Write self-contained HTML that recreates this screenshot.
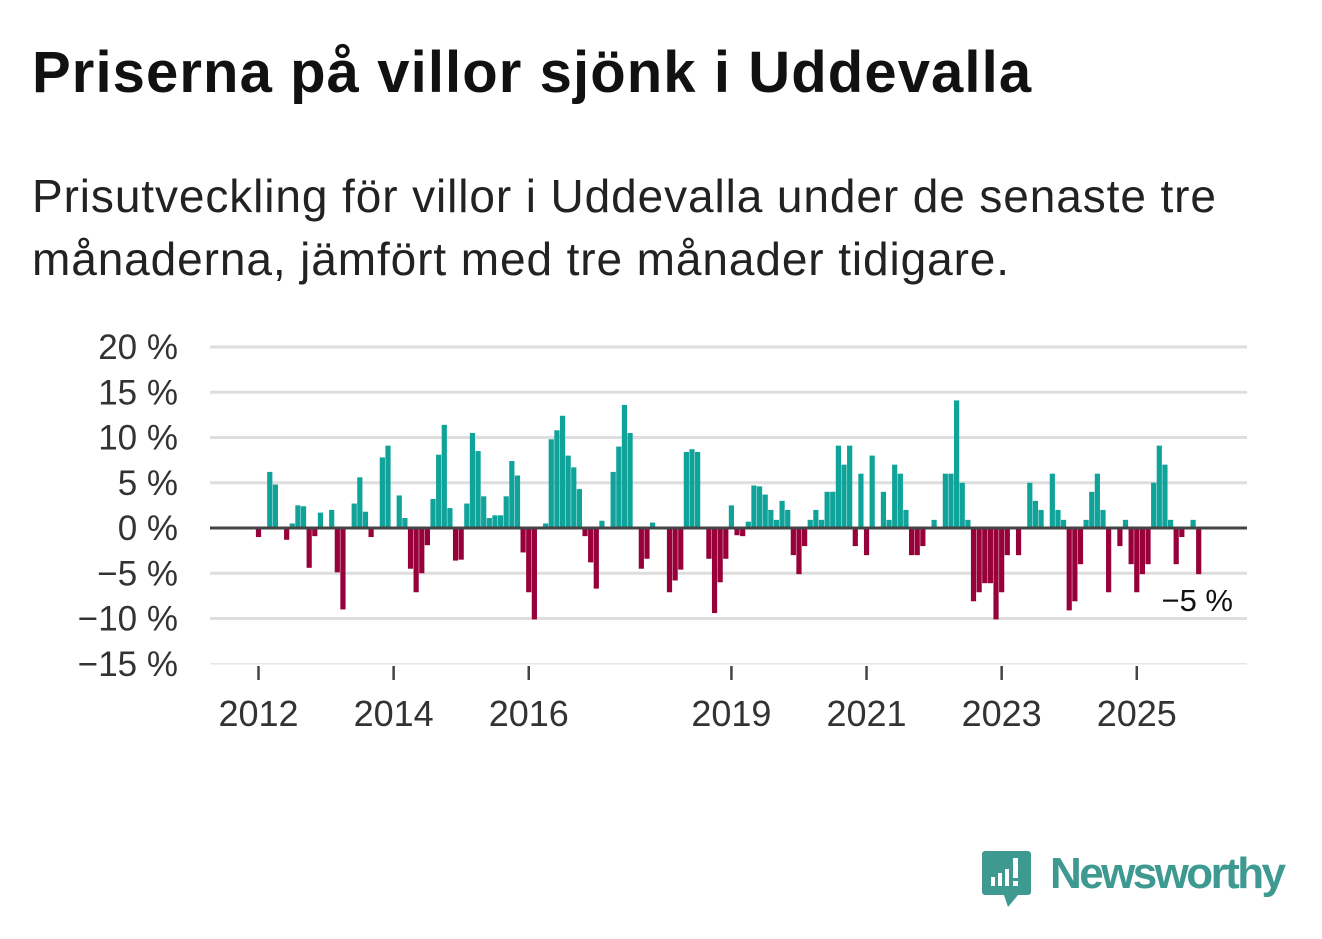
<!DOCTYPE html>
<html><head><meta charset="utf-8"><style>
body{margin:0;background:#fff;width:1322px;height:939px;overflow:hidden;font-family:"Liberation Sans",sans-serif;}
#title{position:absolute;left:32px;top:44px;font-size:58px;line-height:58px;font-weight:bold;color:#111;margin:0;letter-spacing:1.1px;white-space:nowrap}
#sub{position:absolute;left:32px;top:165px;font-size:46px;color:#222;line-height:63px;margin:0;letter-spacing:0.9px;white-space:nowrap}
svg{position:absolute;left:0;top:0}
</style></head><body>
<h1 id="title">Priserna på villor sjönk i Uddevalla</h1>
<p id="sub">Prisutveckling för villor i Uddevalla under de senaste tre<br>månaderna, jämfört med tre månader tidigare.</p>
<svg id="chart" width="1322" height="939"></svg>
<script>
const values=[-1.0,0,6.2,4.8,0,-1.3,0.5,2.5,2.4,-4.4,-0.9,1.7,
0,2.0,-4.9,-9.0,0,2.7,5.6,1.8,-1.0,0,7.8,9.1,
0,3.6,1.1,-4.5,-7.1,-5.0,-1.9,3.2,8.1,11.4,2.2,-3.6,
-3.5,2.7,10.5,8.5,3.5,1.1,1.4,1.4,3.5,7.4,5.8,-2.7,
-7.1,-10.1,0,0.5,9.8,10.8,12.4,8.0,6.7,4.3,-0.9,-3.8,
-6.7,0.8,0,6.2,9.0,13.6,10.5,0,-4.5,-3.4,0.6,0,
0,-7.1,-5.8,-4.6,8.4,8.7,8.4,0,-3.4,-9.4,-6.0,-3.4,
2.5,-0.8,-0.9,0.7,4.7,4.6,3.7,2.0,0.9,3.0,2.0,-3.0,
-5.1,-2.0,0.9,2.0,0.9,4.0,4.0,9.1,7.0,9.1,-2.0,6.0,
-3.0,8.0,0,4.0,0.9,7.0,6.0,2.0,-3.0,-3.0,-2.0,0,
0.9,0,6.0,6.0,14.1,5.0,0.9,-8.1,-7.1,-6.1,-6.1,-10.1,
-7.1,-3.0,0,-3.0,0,5.0,3.0,2.0,0,6.0,2.0,0.9,
-9.1,-8.1,-4.0,0.9,4.0,6.0,2.0,-7.1,0,-2.0,0.9,-4.0,
-7.1,-5.1,-4.0,5.0,9.1,7.0,0.9,-4.0,-1.0,0,0.9,-5.1];
const startYear=2012;
const yTicks=[20,15,10,5,0,-5,-10,-15];
const yTickLabels=["20 %","15 %","10 %","5 %","0 %","−5 %","−10 %","−15 %"];
const xTickYears=[2012,2014,2016,2019,2021,2023,2025];
const lastLabel="−5 %";

const NS="http://www.w3.org/2000/svg";
const svg=document.getElementById('chart');
const X0=210,X1=1247;
function y(v){return 528-(v*9.05);}
function x(i){return 258.5+i*5.63;}
function xYear(yr){return x((yr-startYear)*12);}
function mk(tag,attrs,parent){const e=document.createElementNS(NS,tag);for(const k in attrs)e.setAttribute(k,attrs[k]);(parent||svg).appendChild(e);return e;}

yTicks.forEach((t,k)=>{
  if(t!==0){
    const g=mk('line',{x1:X0,x2:X1,y1:y(t),y2:y(t),stroke:t===-15?'#e6e6e6':'#dedede','stroke-width':t===-15?1.5:3});
    
    
  }
  const tx=mk('text',{x:178,y:y(t)+12,'text-anchor':'end','font-size':35,fill:'#333','font-family':'Liberation Sans, sans-serif'});
  tx.textContent=yTickLabels[k];
  
  
});

values.forEach((v,i)=>{
  if(v===0)return;
  const top=Math.min(y(v),y(0)), h=Math.abs(y(v)-y(0));
  const r=mk('rect',{x:x(i)-2.6,y:top,width:5.2,height:h,fill:v>0?'#0fa39a':'#98003a'});
  
  
});

const zl=mk('line',{x1:X0,x2:X1,y1:y(0),y2:y(0),stroke:'#444','stroke-width':3});



xTickYears.forEach(yr=>{
  const xx=xYear(yr);
  const t=mk('line',{x1:xx,x2:xx,y1:666,y2:680,stroke:'#444','stroke-width':2.5});
  
  
  const tx=mk('text',{x:xx,y:726,'text-anchor':'middle','font-size':36,fill:'#333','font-family':'Liberation Sans, sans-serif'});
  tx.textContent=String(yr);
  
  
});

const lab=mk('text',{x:1233,y:611,'text-anchor':'end','font-size':31,fill:'#111','font-family':'Liberation Sans, sans-serif'});
lab.textContent=lastLabel;


</script>
<svg width="1322" height="939" style="position:absolute;left:0;top:0">
  <path d="M985 851 h43 a3 3 0 0 1 3 3 v38 a3 3 0 0 1 -3 3 h-10 l-10 12 l-4 -12 h-19 a3 3 0 0 1 -3 -3 v-38 a3 3 0 0 1 3 -3z" fill="#3e9a91"/>
  <rect x="991" y="877" width="4" height="9" fill="#fff"/>
  <rect x="998" y="873" width="4" height="13" fill="#fff"/>
  <rect x="1005" y="869" width="4" height="17" fill="#fff"/>
  <rect x="1013" y="858" width="5" height="20" fill="#fff"/>
  <rect x="1013" y="881" width="5" height="5" fill="#fff"/>
  <text x="1050" y="888" font-size="44" font-weight="bold" fill="#3e9a91" font-family="Liberation Sans, sans-serif" textLength="236">Newsworthy</text>
</svg>
</body></html>
